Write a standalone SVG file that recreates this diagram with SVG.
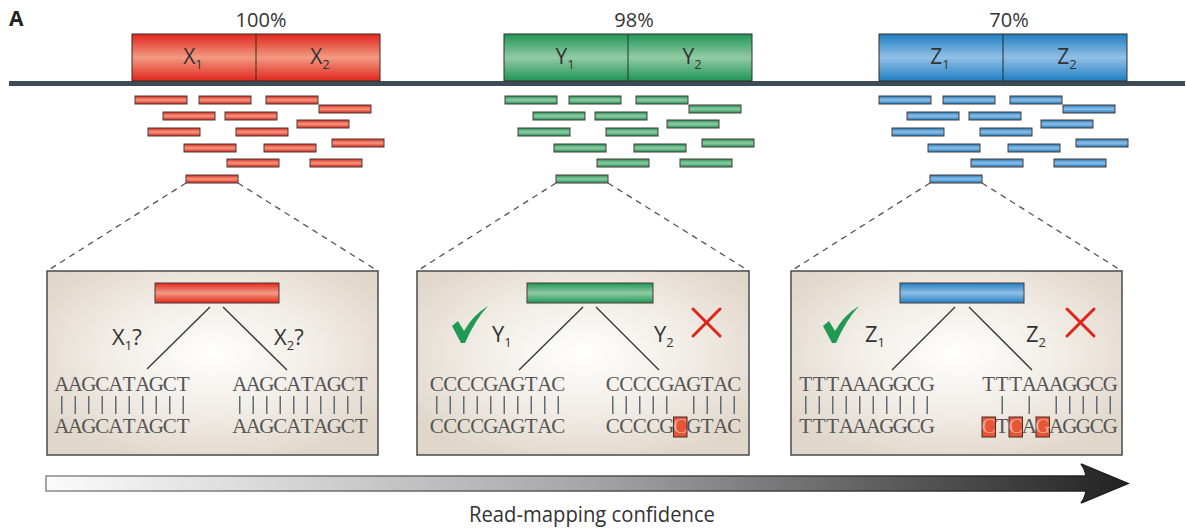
<svg xmlns="http://www.w3.org/2000/svg" width="1186" height="529" viewBox="0 0 1186 529">
<defs>
  <linearGradient id="gRed" x1="0" y1="0" x2="0" y2="1">
    <stop offset="0" stop-color="#e1261c"/>
    <stop offset="0.5" stop-color="#f29a82"/>
    <stop offset="1" stop-color="#e1261c"/>
  </linearGradient>
  <linearGradient id="gGreen" x1="0" y1="0" x2="0" y2="1">
    <stop offset="0" stop-color="#1f9655"/>
    <stop offset="0.5" stop-color="#92cba5"/>
    <stop offset="1" stop-color="#1f9655"/>
  </linearGradient>
  <linearGradient id="gBlue" x1="0" y1="0" x2="0" y2="1">
    <stop offset="0" stop-color="#1f7fc2"/>
    <stop offset="0.5" stop-color="#92bfe6"/>
    <stop offset="1" stop-color="#1f7fc2"/>
  </linearGradient>
  <radialGradient id="gBox" cx="0.5" cy="0.45" r="0.62">
    <stop offset="0" stop-color="#ffffff"/>
    <stop offset="0.55" stop-color="#f0ebe4"/>
    <stop offset="1" stop-color="#e0d6ca"/>
  </radialGradient>
  <linearGradient id="gArrow" gradientUnits="userSpaceOnUse" x1="46" y1="0" x2="1128" y2="0">
    <stop offset="0" stop-color="#fbfbfb"/>
    <stop offset="0.5" stop-color="#a6a6a8"/>
    <stop offset="1" stop-color="#222222"/>
  </linearGradient>
  <linearGradient id="gArrowS" gradientUnits="userSpaceOnUse" x1="46" y1="0" x2="1128" y2="0">
    <stop offset="0" stop-color="#8a8a8a"/>
    <stop offset="1" stop-color="#1e1e1e"/>
  </linearGradient>
  <style>
    .lbl { font-family: "Open Sans", "Liberation Sans", sans-serif; fill: #333; }
    .pct { font-size: 20px; text-anchor: middle; }
    .gene { font-size: 21px; text-anchor: middle; }
    .sub { font-size: 13px; }
    .tl { font-size: 22px; }
    .seq { font-family: "Liberation Serif", "DejaVu Serif", serif; font-size: 21px; fill: #555; text-anchor: middle; }
    .mm { fill: #f3a58c; }
    .big { stroke: #3a2a26; stroke-width: 1; }
    .rd { stroke: #4a3a36; stroke-width: 1; }
    .box { fill: url(#gBox); stroke: #4a4a4a; stroke-width: 1.5; }
    .dash { stroke: #555; stroke-width: 1.3; stroke-dasharray: 6 5; fill: none; }
    .tree { stroke: #333; stroke-width: 1.3; }
    .pipe { stroke: #5d6c78; stroke-width: 1.5; }
    .mmbox { fill: #e4553a; stroke: #4a2a20; stroke-width: 1; }
    .cross { stroke: #e2231a; stroke-width: 3; stroke-linecap: round; }
    .check { fill: #1e9a52; }
  </style>
  <g id="readsX">
    <rect x="135" y="96" width="52" height="8"/>
    <rect x="199" y="96" width="52" height="8"/>
    <rect x="266" y="96" width="52" height="8"/>
    <rect x="319" y="105" width="52" height="8"/>
    <rect x="163" y="112" width="52" height="8"/>
    <rect x="225" y="112" width="52" height="8"/>
    <rect x="297" y="120" width="52" height="8"/>
    <rect x="148" y="128" width="52" height="8"/>
    <rect x="236" y="128" width="52" height="8"/>
    <rect x="184" y="144" width="52" height="8"/>
    <rect x="264" y="144" width="52" height="8"/>
    <rect x="332" y="139" width="52" height="8"/>
    <rect x="227" y="159" width="52" height="8"/>
    <rect x="310" y="159" width="52" height="8"/>
    <rect x="186" y="175" width="52" height="8"/>
  </g>
</defs>

<rect width="1186" height="529" fill="#ffffff"/>

<text x="9" y="26" font-family="Open Sans, Liberation Sans, sans-serif" font-weight="bold" font-size="21" fill="#222">A</text>

<!-- genome line -->
<rect x="9" y="81" width="1176" height="5" fill="#3c4c56"/>

<!-- Region X -->
<g id="regionX">
  <text class="lbl pct" x="261" y="27">100%</text>
  <rect class="big" x="132" y="34" width="248" height="47" fill="url(#gRed)"/>
  <line x1="256" y1="34" x2="256" y2="81" stroke="#3a2a26" stroke-width="1"/>
  <text class="lbl gene" x="193" y="64">X<tspan class="sub" dy="5">1</tspan></text>
  <text class="lbl gene" x="320" y="64">X<tspan class="sub" dy="5">2</tspan></text>
</g>
<g id="readsRed" fill="url(#gRed)" class="rd"><use href="#readsX"/></g>

<!-- Region Y -->
<g id="regionY">
  <text class="lbl pct" x="634" y="27">98%</text>
  <rect class="big" x="504" y="34" width="248" height="47" fill="url(#gGreen)"/>
  <line x1="628" y1="34" x2="628" y2="81" stroke="#1f3a2a" stroke-width="1"/>
  <text class="lbl gene" x="565" y="64">Y<tspan class="sub" dy="5">1</tspan></text>
  <text class="lbl gene" x="692" y="64">Y<tspan class="sub" dy="5">2</tspan></text>
</g>
<g id="readsGreen" fill="url(#gGreen)" class="rd" transform="translate(370,0)"><use href="#readsX"/></g>

<!-- Region Z -->
<g id="regionZ">
  <text class="lbl pct" x="1009" y="27">70%</text>
  <rect class="big" x="879" y="34" width="248" height="47" fill="url(#gBlue)"/>
  <line x1="1003" y1="34" x2="1003" y2="81" stroke="#1a2a3a" stroke-width="1"/>
  <text class="lbl gene" x="940" y="64">Z<tspan class="sub" dy="5">1</tspan></text>
  <text class="lbl gene" x="1067" y="64">Z<tspan class="sub" dy="5">2</tspan></text>
</g>
<g id="readsBlue" fill="url(#gBlue)" class="rd" transform="translate(744,0)"><use href="#readsX"/></g>

<!-- connectors -->
<g id="connectors">
  <line class="dash" x1="186" y1="183" x2="47" y2="271"/>
  <line class="dash" x1="238" y1="183" x2="378" y2="271"/>
  <line class="dash" x1="556" y1="183" x2="417" y2="271"/>
  <line class="dash" x1="608" y1="183" x2="749" y2="271"/>
  <line class="dash" x1="930" y1="183" x2="791" y2="271"/>
  <line class="dash" x1="982" y1="183" x2="1122" y2="271"/>
</g>

<!-- Box X -->
<g id="boxX">
  <rect class="box" x="47" y="271" width="331" height="184"/>
  <rect class="rd" x="155" y="283" width="124" height="20" fill="url(#gRed)"/>
  <line class="tree" x1="210" y1="307" x2="147" y2="369"/>
  <line class="tree" x1="223" y1="307" x2="287" y2="370"/>
  <text class="lbl tl" x="112" y="345">X<tspan class="sub" dy="5">1</tspan><tspan dy="-5">?</tspan></text>
  <text class="lbl tl" x="274" y="345">X<tspan class="sub" dy="5">2</tspan><tspan dy="-5">?</tspan></text>
  <text class="seq" y="391" x="61.75 75.25 88.75 102.25 115.75 129.25 142.75 156.25 169.75 183.25">AAGCATAGCT</text>
  <text class="seq" y="391" x="239.75 253.25 266.75 280.25 293.75 307.25 320.75 334.25 347.75 361.25">AAGCATAGCT</text>
  <g class="pipe">
    <line x1="61.75" y1="396" x2="61.75" y2="414"/><line x1="75.25" y1="396" x2="75.25" y2="414"/>
    <line x1="88.75" y1="396" x2="88.75" y2="414"/><line x1="102.25" y1="396" x2="102.25" y2="414"/>
    <line x1="115.75" y1="396" x2="115.75" y2="414"/><line x1="129.25" y1="396" x2="129.25" y2="414"/>
    <line x1="142.75" y1="396" x2="142.75" y2="414"/><line x1="156.25" y1="396" x2="156.25" y2="414"/>
    <line x1="169.75" y1="396" x2="169.75" y2="414"/><line x1="183.25" y1="396" x2="183.25" y2="414"/>
    <line x1="239.75" y1="396" x2="239.75" y2="414"/><line x1="253.25" y1="396" x2="253.25" y2="414"/>
    <line x1="266.75" y1="396" x2="266.75" y2="414"/><line x1="280.25" y1="396" x2="280.25" y2="414"/>
    <line x1="293.75" y1="396" x2="293.75" y2="414"/><line x1="307.25" y1="396" x2="307.25" y2="414"/>
    <line x1="320.75" y1="396" x2="320.75" y2="414"/><line x1="334.25" y1="396" x2="334.25" y2="414"/>
    <line x1="347.75" y1="396" x2="347.75" y2="414"/><line x1="361.25" y1="396" x2="361.25" y2="414"/>
  </g>
  <text class="seq" y="433" x="61.75 75.25 88.75 102.25 115.75 129.25 142.75 156.25 169.75 183.25">AAGCATAGCT</text>
  <text class="seq" y="433" x="239.75 253.25 266.75 280.25 293.75 307.25 320.75 334.25 347.75 361.25">AAGCATAGCT</text>
</g>

<!-- Box Y -->
<g id="boxY">
  <rect class="box" x="417" y="271" width="332" height="184"/>
  <rect class="rd" x="527" y="283" width="126" height="20" fill="url(#gGreen)"/>
  <line class="tree" x1="583" y1="307" x2="519" y2="370"/>
  <line class="tree" x1="596" y1="307" x2="659" y2="370"/>
  <path class="check" d="M452,326 L458,321 L464,331 Q473,315 488,306 Q475,320 465,343 L461,343 Z"/>
  <text class="lbl tl" x="492" y="342">Y<tspan class="sub" dy="5">1</tspan></text>
  <text class="lbl tl" x="654" y="342">Y<tspan class="sub" dy="5">2</tspan></text>
  <line class="cross" x1="693" y1="309" x2="720" y2="336"/>
  <line class="cross" x1="720" y1="309" x2="693" y2="336"/>
  <text class="seq" y="391" x="436.75 450.25 463.75 477.25 490.75 504.25 517.75 531.25 544.75 558.25">CCCCGAGTAC</text>
  <text class="seq" y="391" x="612.75 626.25 639.75 653.25 666.75 680.25 693.75 707.25 720.75 734.25">CCCCGAGTAC</text>
  <g class="pipe">
    <line x1="436.75" y1="396" x2="436.75" y2="414"/><line x1="450.25" y1="396" x2="450.25" y2="414"/>
    <line x1="463.75" y1="396" x2="463.75" y2="414"/><line x1="477.25" y1="396" x2="477.25" y2="414"/>
    <line x1="490.75" y1="396" x2="490.75" y2="414"/><line x1="504.25" y1="396" x2="504.25" y2="414"/>
    <line x1="517.75" y1="396" x2="517.75" y2="414"/><line x1="531.25" y1="396" x2="531.25" y2="414"/>
    <line x1="544.75" y1="396" x2="544.75" y2="414"/><line x1="558.25" y1="396" x2="558.25" y2="414"/>
    <line x1="612.75" y1="396" x2="612.75" y2="414"/><line x1="626.25" y1="396" x2="626.25" y2="414"/>
    <line x1="639.75" y1="396" x2="639.75" y2="414"/><line x1="653.25" y1="396" x2="653.25" y2="414"/>
    <line x1="666.75" y1="396" x2="666.75" y2="414"/>
    <line x1="693.75" y1="396" x2="693.75" y2="414"/>
    <line x1="707.25" y1="396" x2="707.25" y2="414"/><line x1="720.75" y1="396" x2="720.75" y2="414"/>
    <line x1="734.25" y1="396" x2="734.25" y2="414"/>
  </g>
  <rect class="mmbox" x="673.5" y="417" width="13.5" height="20"/>
  <text class="seq" y="433" x="436.75 450.25 463.75 477.25 490.75 504.25 517.75 531.25 544.75 558.25">CCCCGAGTAC</text>
  <text class="seq" y="433"><tspan x="612.75 626.25 639.75 653.25 666.75">CCCCG</tspan><tspan class="mm" x="680.25">C</tspan><tspan x="693.75 707.25 720.75 734.25">GTAC</tspan></text>
</g>

<!-- Box Z -->
<g id="boxZ">
  <rect class="box" x="791" y="271" width="331" height="184"/>
  <rect class="rd" x="900" y="283" width="124" height="20" fill="url(#gBlue)"/>
  <line class="tree" x1="955" y1="307" x2="892" y2="370"/>
  <line class="tree" x1="969" y1="307" x2="1032" y2="370"/>
  <path class="check" d="M823,326 L829,321 L835,331 Q844,315 859,306 Q846,320 836,343 L832,343 Z"/>
  <text class="lbl tl" x="865" y="342">Z<tspan class="sub" dy="5">1</tspan></text>
  <text class="lbl tl" x="1026" y="342">Z<tspan class="sub" dy="5">2</tspan></text>
  <line class="cross" x1="1067" y1="309" x2="1094" y2="336"/>
  <line class="cross" x1="1094" y1="309" x2="1067" y2="336"/>
  <text class="seq" y="391" x="805.75 819.25 832.75 846.25 859.75 873.25 886.75 900.25 913.75 927.25">TTTAAAGGCG</text>
  <text class="seq" y="391" x="988.75 1002.25 1015.75 1029.25 1042.75 1056.25 1069.75 1083.25 1096.75 1110.25">TTTAAAGGCG</text>
  <g class="pipe">
    <line x1="805.75" y1="396" x2="805.75" y2="414"/><line x1="819.25" y1="396" x2="819.25" y2="414"/>
    <line x1="832.75" y1="396" x2="832.75" y2="414"/><line x1="846.25" y1="396" x2="846.25" y2="414"/>
    <line x1="859.75" y1="396" x2="859.75" y2="414"/><line x1="873.25" y1="396" x2="873.25" y2="414"/>
    <line x1="886.75" y1="396" x2="886.75" y2="414"/><line x1="900.25" y1="396" x2="900.25" y2="414"/>
    <line x1="913.75" y1="396" x2="913.75" y2="414"/><line x1="927.25" y1="396" x2="927.25" y2="414"/>
    <line x1="1002.25" y1="396" x2="1002.25" y2="414"/>
    <line x1="1029.25" y1="396" x2="1029.25" y2="414"/>
    <line x1="1056.25" y1="396" x2="1056.25" y2="414"/><line x1="1069.75" y1="396" x2="1069.75" y2="414"/>
    <line x1="1083.25" y1="396" x2="1083.25" y2="414"/><line x1="1096.75" y1="396" x2="1096.75" y2="414"/>
    <line x1="1110.25" y1="396" x2="1110.25" y2="414"/>
  </g>
  <rect class="mmbox" x="982" y="417" width="13.5" height="20"/>
  <rect class="mmbox" x="1009" y="417" width="13.5" height="20"/>
  <rect class="mmbox" x="1036" y="417" width="13.5" height="20"/>
  <text class="seq" y="433" x="805.75 819.25 832.75 846.25 859.75 873.25 886.75 900.25 913.75 927.25">TTTAAAGGCG</text>
  <text class="seq" y="433"><tspan class="mm" x="988.75">C</tspan><tspan x="1002.25">T</tspan><tspan class="mm" x="1015.75">C</tspan><tspan x="1029.25">A</tspan><tspan class="mm" x="1042.75">G</tspan><tspan x="1056.25 1069.75 1083.25 1096.75 1110.25">AGGCG</tspan></text>
</g>

<!-- confidence arrow -->
<g id="arrow">
  <path d="M46,476 L1086,476 Q1085,469 1081,464 L1128,483.5 L1081,503 Q1085,498 1086,491 L46,491 Z" fill="url(#gArrow)" stroke="url(#gArrowS)" stroke-width="1.5" stroke-linejoin="miter"/>
  <text class="lbl" font-size="21" x="469" y="522" textLength="246" lengthAdjust="spacingAndGlyphs">Read-mapping confidence</text>
</g>
</svg>
